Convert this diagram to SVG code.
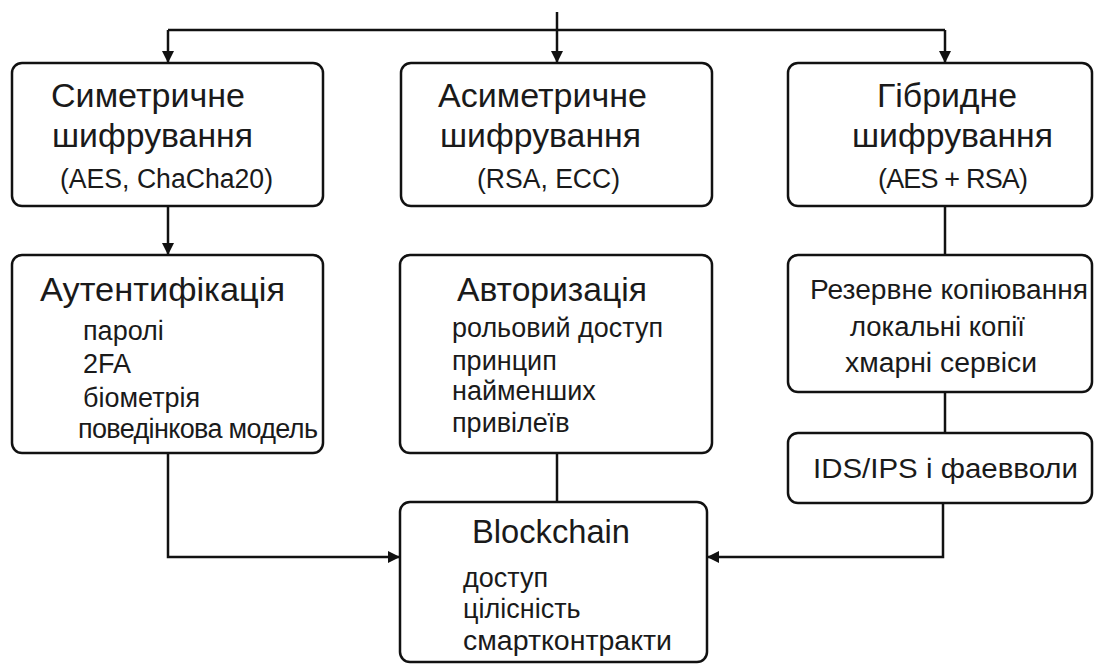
<svg xmlns="http://www.w3.org/2000/svg" width="1094" height="664" viewBox="0 0 1094 664">
  <defs>
    <marker id="arrow" markerUnits="userSpaceOnUse" markerWidth="14" markerHeight="12" refX="12" refY="6" orient="auto">
      <path d="M0,0 L12,6 L0,12 Z" fill="#111"/>
    </marker>
    <style>
      .box { fill: #fff; stroke: #111; stroke-width: 2.5; }
      .wire { fill: none; stroke: #111; stroke-width: 2.5; }
      text { font-family: "Liberation Sans", Arial, sans-serif; fill: #1a1a1a; }
      .title { font-size: 34px; }
      .sub { font-size: 27px; }
    </style>
  </defs>
  <rect width="1094" height="664" fill="#fff"/>

  <!-- connectors -->
  <g id="connectors">
    <path class="wire" d="M557,12 V63" marker-end="url(#arrow)"/>
    <path class="wire" d="M168,30 H945"/>
    <path class="wire" d="M168,30 V63" marker-end="url(#arrow)"/>
    <path class="wire" d="M945,30 V63" marker-end="url(#arrow)"/>
    <path class="wire" d="M168,206 V255" marker-end="url(#arrow)"/>
    <path class="wire" d="M945,206 V255"/>
    <path class="wire" d="M945,392 V433"/>
    <path class="wire" d="M168,453 V557 H400" marker-end="url(#arrow)"/>
    <path class="wire" d="M557,453 V502"/>
    <path class="wire" d="M943,503 V557 H707" marker-end="url(#arrow)"/>
  </g>

  <!-- symmetric encryption -->
  <g id="symmetric">
    <rect class="box" x="12" y="63" width="311" height="143" rx="10"/>
    <text class="title" x="51" y="107" textLength="194" lengthAdjust="spacingAndGlyphs">Симетричне</text>
    <text class="title" x="52" y="147" textLength="201" lengthAdjust="spacingAndGlyphs">шифрування</text>
    <text class="sub" x="60" y="188" textLength="213" lengthAdjust="spacingAndGlyphs">(AES, ChaCha20)</text>
  </g>

  <!-- asymmetric encryption -->
  <g id="asymmetric">
    <rect class="box" x="401" y="63" width="311" height="143" rx="10"/>
    <text class="title" x="438" y="107" textLength="209" lengthAdjust="spacingAndGlyphs">Асиметричне</text>
    <text class="title" x="440" y="147" textLength="201" lengthAdjust="spacingAndGlyphs">шифрування</text>
    <text class="sub" x="477" y="188" textLength="143" lengthAdjust="spacingAndGlyphs">(RSA, ECC)</text>
  </g>

  <!-- hybrid encryption -->
  <g id="hybrid">
    <rect class="box" x="788" y="63" width="304" height="143" rx="10"/>
    <text class="title" x="877" y="107" textLength="140" lengthAdjust="spacingAndGlyphs">Гібридне</text>
    <text class="title" x="852" y="147" textLength="201" lengthAdjust="spacingAndGlyphs">шифрування</text>
    <text class="sub" x="878" y="188" textLength="150" lengthAdjust="spacing">(AES + RSA)</text>
  </g>

  <!-- authentication -->
  <g id="authentication">
    <rect class="box" x="12" y="255" width="311" height="198" rx="10"/>
    <text class="title" x="40" y="301" textLength="245" lengthAdjust="spacingAndGlyphs">Аутентифікація</text>
    <text class="sub" x="83" y="340">паролі</text>
    <text class="sub" x="83" y="373">2FA</text>
    <text class="sub" x="83" y="407">біометрія</text>
    <text class="sub" x="78" y="438" textLength="240" lengthAdjust="spacing">поведінкова модель</text>
  </g>

  <!-- authorization -->
  <g id="authorization">
    <rect class="box" x="400" y="255" width="312" height="198" rx="10"/>
    <text class="title" x="457" y="301" textLength="190" lengthAdjust="spacingAndGlyphs">Авторизація</text>
    <text class="sub" x="452" y="337" textLength="211" lengthAdjust="spacingAndGlyphs">рольовий доступ</text>
    <text class="sub" x="452" y="370">принцип</text>
    <text class="sub" x="452" y="400">найменших</text>
    <text class="sub" x="452" y="432">привілеїв</text>
  </g>

  <!-- backup -->
  <g id="backup">
    <rect class="box" x="788" y="255" width="304" height="137" rx="10"/>
    <text class="sub" x="810" y="299" textLength="278" lengthAdjust="spacingAndGlyphs">Резервне копіювання</text>
    <text class="sub" x="850" y="336" textLength="175" lengthAdjust="spacingAndGlyphs">локальні копії</text>
    <text class="sub" x="845" y="372" textLength="192" lengthAdjust="spacingAndGlyphs">хмарні сервіси</text>
  </g>

  <!-- intrusion detection / firewalls -->
  <g id="ids">
    <rect class="box" x="788" y="433" width="304" height="70" rx="10"/>
    <text class="sub" x="813" y="478" textLength="265" lengthAdjust="spacingAndGlyphs">IDS/IPS і фаевволи</text>
  </g>

  <!-- blockchain -->
  <g id="blockchain">
    <rect class="box" x="400" y="502" width="307" height="160" rx="10"/>
    <text class="title" x="472" y="543" textLength="158" lengthAdjust="spacingAndGlyphs">Blockchain</text>
    <text class="sub" x="463" y="587">доступ</text>
    <text class="sub" x="463" y="618">цілісність</text>
    <text class="sub" x="463" y="650" textLength="209" lengthAdjust="spacingAndGlyphs">смартконтракти</text>
  </g>
</svg>
